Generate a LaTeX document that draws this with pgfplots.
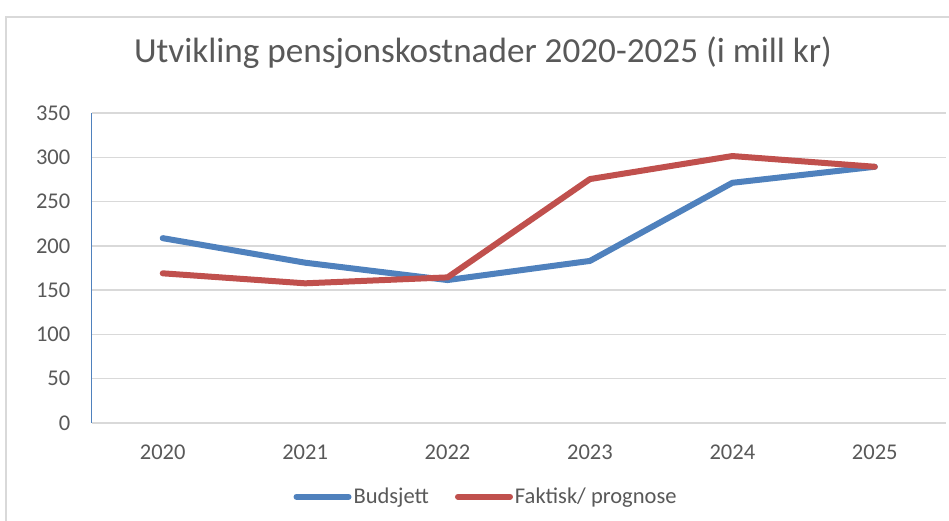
\documentclass[border=0pt]{standalone}
\usepackage{fontspec}
\setmainfont{Carlito}
\usepackage{pgfplots}
\pgfplotsset{compat=1.18}
\definecolor{serblue}{HTML}{4F81BD}
\definecolor{serred}{HTML}{C0504D}
\definecolor{gridgray}{HTML}{D9D9D9}
\definecolor{txtgray}{HTML}{595959}
\begin{document}
\begin{tikzpicture}
\useasboundingbox (0,0) rectangle (949bp,521bp);
\fill[white] (0,0) rectangle (949bp,521bp);
\draw[gridgray, line width=1.5bp] (6bp,-5bp) rectangle (960bp,504bp);
\node[anchor=base, text=txtgray, font=\fontsize{35.3}{42}\selectfont, inner sep=0pt] at (483bp,458.7bp) {Utvikling pensjonskostnader 2020-2025 (i mill kr)};
\begin{axis}[
  at={(91.5bp,98bp)}, anchor=south west,
  scale only axis, width=854.5bp, height=310bp,
  xmin=-0.5, xmax=5.5, ymin=0, ymax=350,
  axis x line=bottom, axis y line=left,
  x axis line style={-, draw=gridgray, line width=1.5bp},
  y axis line style={-, draw=serblue, line width=1.2bp},
  xtick={0,1,2,3,4,5},
  xticklabels={2020,2021,2022,2023,2024,2025},
  ytick={0,50,100,150,200,250,300,350},
  major tick length=0pt,
  ymajorgrids,
  grid style={gridgray, line width=1.3bp},
  /pgf/number format/assume math mode=true,
  tick label style={text=txtgray, font=\fontsize{22.6}{27}\selectfont, inner sep=0pt},
  yticklabel style={anchor=east, xshift=-21bp},
  xticklabel style={anchor=north, yshift=-22bp},
  legend columns=2,
  legend image code/.code={\draw[#1] (0bp,0bp) -- (52bp,0bp);},
  legend style={draw=none, fill=none, inner sep=0pt, at={(0.4617,-0.2377)}, anchor=center,
    font=\fontsize{22.6}{27}\selectfont, text=txtgray,
    nodes={inner sep=2bp},
    /tikz/every even column/.append style={column sep=24bp}},
  every axis plot/.append style={line width=6bp, line cap=round, line join=round},
  clip=false,
]
\addplot[serblue] coordinates {(0,208.7) (1,181) (2,161.4) (3,183) (4,271.2) (5,289.3)};
\addlegendentry{Budsjett}
\addplot[serred] coordinates {(0,169) (1,157.7) (2,164.4) (3,275.4) (4,301.4) (5,289.3)};
\addlegendentry{Faktisk/ prognose}
\end{axis}
\end{tikzpicture}
\end{document}
